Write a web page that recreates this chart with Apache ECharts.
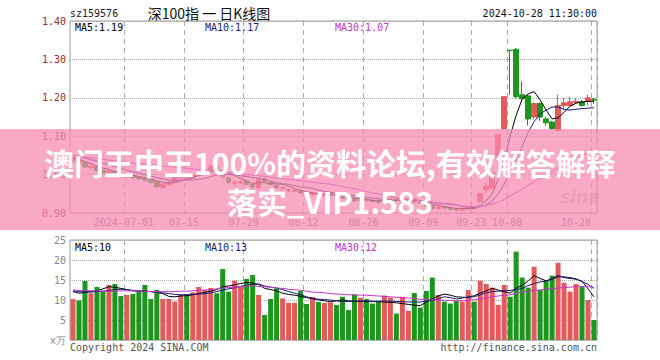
<!DOCTYPE html>
<html><head><meta charset="utf-8">
<script src="https://cdn.jsdelivr.net/npm/echarts@6/dist/echarts.min.js"></script>
<style>html,body{margin:0;padding:0;background:#fff}#c{width:660px;height:360px}</style>
</head><body><div id="c"></div><script>
const dates = [
'2024-06-18','2024-06-19','2024-06-20','2024-06-21','2024-06-24','2024-06-25','2024-06-26','2024-06-27','2024-06-28',
'2024-07-01','2024-07-02','2024-07-03','2024-07-04','2024-07-05','2024-07-08','2024-07-09','2024-07-10','2024-07-11','2024-07-12',
'2024-07-15','2024-07-16','2024-07-17','2024-07-18','2024-07-19','2024-07-22','2024-07-23','2024-07-24','2024-07-25','2024-07-26',
'2024-07-29','2024-07-30','2024-07-31','2024-08-01','2024-08-02','2024-08-05','2024-08-06','2024-08-07','2024-08-08','2024-08-09',
'2024-08-12','2024-08-13','2024-08-14','2024-08-15','2024-08-16','2024-08-19','2024-08-20','2024-08-21','2024-08-22','2024-08-23',
'2024-08-26','2024-08-27','2024-08-28','2024-08-29','2024-08-30','2024-09-02','2024-09-03','2024-09-04','2024-09-05','2024-09-06',
'2024-09-09','2024-09-10','2024-09-11','2024-09-12','2024-09-13','2024-09-18','2024-09-19','2024-09-20',
'2024-09-23','2024-09-24','2024-09-25','2024-09-26','2024-09-27','2024-09-30',
'2024-10-08','2024-10-09','2024-10-10','2024-10-11','2024-10-14','2024-10-15','2024-10-16','2024-10-17','2024-10-18',
'2024-10-21','2024-10-22','2024-10-23','2024-10-24','2024-10-25','2024-10-28'];
const opens = [1.035,1.040,1.032,1.018,1.020,1.012,1.002,1.008,1.000,0.994,
0.998,0.993,0.990,0.987,0.980,0.966,0.974,0.982,0.992,0.998,
0.993,0.998,1.004,1.010,1.020,1.010,0.992,0.977,0.978,0.982,
0.974,0.966,0.989,0.980,0.972,0.963,0.958,0.956,0.958,0.952,
0.947,0.951,0.945,0.946,0.949,0.944,0.939,0.937,0.931,0.936,
0.933,0.931,0.927,0.932,0.937,0.932,0.934,0.936,0.929,0.925,
0.920,0.911,0.916,0.913,0.911,0.907,0.911,0.916,0.930,0.960,
0.965,1.045,1.120,1.324,1.326,1.208,1.205,1.150,1.185,1.145,
1.137,1.115,1.180,1.180,1.188,1.190,1.190,1.196];
const closes = [1.042,1.030,1.020,1.022,1.010,1.004,1.008,1.000,0.996,0.998,
0.993,0.989,0.986,0.980,0.968,0.975,0.980,0.993,0.997,0.994,
0.999,1.005,1.010,1.022,1.013,0.995,0.980,0.981,0.982,0.975,
0.968,0.988,0.982,0.974,0.966,0.966,0.961,0.959,0.952,0.949,
0.952,0.947,0.948,0.950,0.944,0.939,0.936,0.932,0.936,0.933,
0.930,0.928,0.933,0.937,0.934,0.936,0.937,0.929,0.925,0.919,
0.912,0.916,0.913,0.910,0.908,0.912,0.915,0.913,0.950,0.970,
1.005,1.105,1.203,1.323,1.203,1.198,1.145,1.185,1.150,1.135,
1.120,1.180,1.187,1.190,1.191,1.180,1.200,1.194];
const lows = [1.030,1.027,1.017,1.012,1.007,1.000,0.998,0.996,0.992,0.990,
0.989,0.985,0.982,0.976,0.964,0.962,0.970,0.979,0.988,0.990,
0.990,0.995,1.001,1.007,1.009,0.988,0.976,0.972,0.974,0.971,
0.964,0.963,0.978,0.971,0.963,0.960,0.954,0.953,0.949,0.946,
0.945,0.944,0.942,0.943,0.941,0.936,0.933,0.929,0.929,0.930,
0.927,0.925,0.925,0.929,0.931,0.929,0.931,0.926,0.922,0.916,
0.908,0.908,0.910,0.907,0.905,0.905,0.908,0.909,0.925,0.952,
0.962,1.040,1.115,1.208,1.198,1.195,1.128,1.143,1.140,1.127,
1.115,1.112,1.168,1.176,1.184,1.177,1.180,1.185];
const highs = [1.046,1.044,1.034,1.026,1.023,1.015,1.011,1.010,1.003,1.002,
1.001,0.996,0.994,0.990,0.982,0.978,0.984,0.996,1.000,1.002,
1.003,1.008,1.013,1.026,1.023,1.012,0.994,0.985,0.986,0.985,
0.977,0.991,0.992,0.983,0.975,0.969,0.965,0.962,0.961,0.955,
0.955,0.953,0.951,0.953,0.951,0.946,0.941,0.939,0.939,0.938,
0.935,0.933,0.936,0.940,0.939,0.939,0.940,0.938,0.931,0.927,
0.922,0.919,0.918,0.915,0.913,0.915,0.918,0.919,0.953,0.980,
1.008,1.106,1.205,1.324,1.330,1.243,1.208,1.188,1.188,1.150,
1.140,1.208,1.200,1.203,1.200,1.195,1.208,1.200];
const ma5 = [1.045,1.040,1.034,1.028,1.022,1.017,1.013,1.008,1.004,1.001,
0.998,0.995,0.992,0.989,0.983,0.980,0.978,0.979,0.983,0.988,
0.992,0.998,1.001,1.007,1.010,1.009,1.004,0.998,0.990,0.983,
0.977,0.979,0.979,0.977,0.976,0.975,0.970,0.963,0.959,0.955,
0.953,0.950,0.950,0.949,0.948,0.946,0.943,0.940,0.937,0.935,
0.933,0.932,0.932,0.932,0.932,0.934,0.935,0.934,0.932,0.929,
0.924,0.920,0.917,0.914,0.912,0.912,0.912,0.912,0.920,0.932,
0.950,0.988,1.037,1.100,1.154,1.197,1.210,1.216,1.195,1.168,
1.145,1.148,1.162,1.178,1.186,1.189,1.191,1.191];
const ma10 = [1.050,1.047,1.043,1.039,1.035,1.030,1.026,1.021,1.016,1.011,
1.007,1.004,1.000,0.996,0.992,0.989,0.986,0.985,0.986,0.986,
0.986,0.988,0.990,0.995,0.999,1.000,1.000,0.999,0.997,0.995,
0.993,0.990,0.987,0.983,0.979,0.976,0.975,0.971,0.968,0.966,
0.964,0.960,0.956,0.954,0.952,0.949,0.947,0.945,0.943,0.941,
0.939,0.937,0.935,0.934,0.933,0.933,0.934,0.933,0.932,0.931,
0.928,0.926,0.925,0.924,0.921,0.918,0.916,0.914,0.916,0.921,
0.931,0.950,0.975,1.006,1.037,1.073,1.110,1.138,1.158,1.168,
1.176,1.176,1.170,1.168,1.170,1.172,1.173,1.174];
const ma30 = [1.050,1.048,1.046,1.044,1.042,1.040,1.038,1.036,1.034,1.032,
1.030,1.029,1.027,1.026,1.024,1.022,1.021,1.019,1.018,1.016,
1.015,1.013,1.012,1.010,1.008,1.007,1.005,1.004,1.002,1.000,
0.999,0.997,0.995,0.993,0.991,0.989,0.987,0.986,0.984,0.982,
0.980,0.978,0.977,0.975,0.972,0.969,0.966,0.963,0.960,0.956,
0.953,0.950,0.947,0.944,0.940,0.938,0.936,0.934,0.932,0.930,
0.928,0.926,0.924,0.922,0.920,0.918,0.917,0.917,0.918,0.920,
0.923,0.928,0.935,0.944,0.953,0.962,0.972,0.981,0.990,0.999,
1.008,1.017,1.026,1.034,1.042,1.050,1.057,1.064];
const volumes = [10.25,9.9,14.75,11.7,13.25,12.1,13.75,14,11,11.25,
11.5,12.1,13.75,10.25,12.5,10.25,10.25,9.6,11.4,11.4,
11.9,13.25,12.5,13,11.7,17.75,12.1,14.8,13.3,15.25,
16.25,11.25,6.25,10.25,12.9,10.4,9.3,9.3,12.25,9,
10.75,9.5,9.3,9.4,8.75,10.8,7.5,11.4,10.6,10.25,
9.1,9.75,11.1,10.6,6.6,10.8,7.3,11.75,8.1,12.25,
15.6,11.25,9.6,9.1,9.75,9.6,12.5,9.6,14.8,14,
13.1,8.75,13.75,10.8,22.1,15.6,13.1,18.3,12.5,14.75,
16.1,19.3,14.3,12.1,14,13.3,10,5];
const vma5 = [12.1,11.7,11.9,12.1,12.3,12.8,13.3,13.2,12.9,12.6,
12.3,12.2,12.2,12.1,11.9,11.6,10.9,10.8,11.0,11.1,
11.3,11.6,11.9,12.2,12.6,13.3,13.5,13.8,14.1,14.4,
14.2,13.9,12.9,12.6,12.3,11.7,11.4,11.2,10.9,10.6,
10.3,10.0,9.8,9.6,9.8,10.0,9.8,9.7,9.6,9.6,
9.6,9.6,9.5,9.4,9.3,9.1,8.9,8.7,8.6,9.5,
10.3,11.0,11.5,11.2,10.8,10.7,10.6,11.1,11.7,12.3,
12.9,12.5,12.1,11.7,13.0,13.6,14.8,16.1,15.4,14.8,
15.3,16.1,15.6,15.4,15.2,14.7,12.8,10.8];
const vma10 = [12.3,12.1,12.0,12.0,12.1,12.2,12.4,12.6,12.7,12.6,
12.4,12.3,12.2,12.1,12.0,11.8,11.6,11.4,11.3,11.3,
11.4,11.5,11.6,11.8,12.1,12.5,12.8,13.1,13.4,13.7,
13.9,14.0,13.5,13.2,13.0,12.6,12.1,11.7,11.3,10.8,
10.4,10.2,10.1,10.0,9.8,9.6,9.6,9.7,9.8,9.8,
9.7,9.7,9.75,9.7,9.6,9.6,9.5,9.5,9.5,9.7,
9.9,10.3,10.8,10.6,10.25,10.5,10.8,10.8,11.3,11.8,
12.1,12.2,12.3,12.4,12.6,12.9,13.6,14.1,14.5,14.75,
15.2,15.8,15.8,15.6,15.3,14.6,13.9,12.9];
const vma30 = [12.5,12.4,12.4,12.3,12.3,12.2,12.2,12.2,12.3,12.3,
12.3,12.2,12.2,12.1,12.1,12.1,12.1,12.1,12.2,12.2,
12.3,12.4,12.5,12.6,12.8,13.0,13.1,13.2,13.4,13.5,
13.5,13.4,13.3,13.2,13.0,12.9,12.7,12.6,12.4,12.2,
12.0,11.9,11.8,11.6,11.5,11.4,11.3,11.3,11.2,11.2,
11.1,11.0,10.9,10.8,10.7,10.6,10.5,10.4,10.2,10.1,
10.0,10.0,9.9,9.9,9.8,9.8,9.9,10.1,10.3,10.5,
10.8,11.0,11.2,11.3,11.7,12.0,12.2,12.4,12.5,12.7,
12.8,13.0,13.1,13.2,13.4,13.4,13.3,13.2];
const tickDates = ['2024-07-01','2024-07-15','2024-07-29','2024-08-12','2024-08-26','2024-09-09','2024-09-23','2024-10-08','2024-10-28'];
const tickLabels = ['2024-07-01','07-15','07-29','08-12','08-26','09-09','09-23','10-08','10-28'];
const priceMin = 0.9, priceMax = 1.4, priceStep = 0.1;
const volMin = 0, volMax = 25, volStep = 5;
const volUnit = 'x万';
const maTop = ['MA5:1.19','MA10:1.17','MA30:1.07'];
const maVol = ['MA5:10','MA10:13','MA30:12'];

const RED = '#e35a5a', GREEN = '#1c961c';
const C5 = '#000000', C10 = '#1b1b7a', C30 = '#c435c4';
const MONO = '"DejaVu Sans Mono", "Liberation Mono", monospace';
const isTick = (i) => tickDates.indexOf(dates[i]) >= 0;

const chart = echarts.init(document.getElementById('c'), null, {renderer: 'svg', width: 660, height: 360});
const gridBase = {show: true, borderColor: '#999', borderWidth: 1, backgroundColor: 'transparent', containLabel: false, outerBoundsMode: 'none'};
const vSplit = {show: true, interval: (i) => isTick(i), lineStyle: {color: '#aaa', type: [5, 4], width: 1}};
const hSplit = {show: true, lineStyle: {color: '#aaa', type: 'dotted', width: 1}};
const lineS = (name, data, color, xi, yi) => ({name, type: 'line', data, xAxisIndex: xi, yAxisIndex: yi, symbol: 'none', smooth: false, lineStyle: {color, width: 1}, itemStyle: {color}, z: 5, silent: true});

function txt(text, x, y, color, align, font) {
  return {type: 'text', x, y, z: 10, style: {text, fill: color, font: font || ('10px ' + MONO), textAlign: align || 'left', textVerticalAlign: 'middle'}};
}

chart.setOption({
  animation: false,
  backgroundColor: '#fff',
  grid: [
    Object.assign({left: 70, top: 21, width: 527, height: 192}, gridBase),
    Object.assign({left: 70, top: 240, width: 527, height: 100}, gridBase)
  ],
  xAxis: [
    {type: 'category', gridIndex: 0, data: dates, boundaryGap: true,
     axisLine: {show: false}, axisTick: {show: false},
     axisLabel: {interval: (i) => isTick(i), color: '#777', fontFamily: MONO, fontSize: 10, margin: 4,
       formatter: (v) => { const k = tickDates.indexOf(v); const t = tickLabels[k]; return k === tickDates.length - 1 ? '{e|' + t + '}' : '{n|' + t + '}'; },
       rich: {n: {padding: [0, 6, 0, 0], color: '#777', fontFamily: MONO, fontSize: 10}, e: {padding: [0, 36, 0, 0], color: '#777', fontFamily: MONO, fontSize: 10}}},
     splitLine: vSplit},
    {type: 'category', gridIndex: 1, data: dates, boundaryGap: true,
     axisLine: {show: false}, axisTick: {show: false}, axisLabel: {show: false},
     splitLine: vSplit}
  ],
  yAxis: [
    {type: 'value', gridIndex: 0, min: priceMin, max: priceMax, interval: priceStep, scale: true,
     axisLine: {show: false}, axisTick: {show: false},
     axisLabel: {color: '#9a2c2c', fontFamily: MONO, fontSize: 10, margin: 4, formatter: (v) => v.toFixed(2)},
     splitLine: hSplit},
    {type: 'value', gridIndex: 1, min: volMin, max: volMax, interval: volStep,
     axisLine: {show: false}, axisTick: {show: false},
     axisLabel: {color: '#888', fontFamily: MONO, fontSize: 10, margin: 4, formatter: (v) => v === 0 ? volUnit : String(v)},
     splitLine: hSplit}
  ],
  series: [
    {type: 'candlestick', xAxisIndex: 0, yAxisIndex: 0, barWidth: 5,
     data: dates.map((d, i) => [opens[i], closes[i], lows[i], highs[i]]),
     itemStyle: {color: RED, color0: GREEN, borderColor: RED, borderColor0: GREEN, borderWidth: 1}, z: 3, silent: true},
    lineS('MA5', ma5, C5, 0, 0),
    lineS('MA10', ma10, C10, 0, 0),
    lineS('MA30', ma30, C30, 0, 0),
    {type: 'bar', xAxisIndex: 1, yAxisIndex: 1, barWidth: 5, data: volumes, silent: true, z: 3,
     itemStyle: {color: (p) => closes[p.dataIndex] >= opens[p.dataIndex] ? RED : GREEN}},
    lineS('VMA5', vma5, C5, 1, 1),
    lineS('VMA10', vma10, C10, 1, 1),
    lineS('VMA30', vma30, C30, 1, 1)
  ],
  graphic: [
    txt('sz159576', 70, 13, '#222'),
    txt('深100指 一 日K线图', 209, 13, '#111', 'center', '14px "Noto Sans CJK SC"'),
    txt('2024-10-28 11:30:00', 597, 13, '#111', 'right'),
    txt(maTop[0], 75, 27, C5),
    txt(maTop[1], 205, 27, C10),
    txt(maTop[2], 335, 27, C30),
    txt(maVol[0], 75, 247, C5),
    txt(maVol[1], 205, 247, C10),
    txt(maVol[2], 335, 247, C30),
    txt('Copyright 2024 SINA.COM', 70, 347, '#555'),
    txt('http://finance.sina.com.cn', 597, 347, '#555', 'right'),
    txt('sina', 580, 197, 'rgba(140,140,140,0.45)', 'center', 'italic bold 17px "DejaVu Sans"'),
    {type: 'rect', z: 100, shape: {x: 0, y: 129, width: 660, height: 101}, style: {fill: 'rgba(247,138,178,0.74)'}},
    {type: 'text', z: 101, x: 330, y: 162, style: {text: '澳门王中王100%的资料论坛,有效解答解释', fill: '#fff', font: 'bold 30px "Noto Sans CJK SC"', textAlign: 'center', textVerticalAlign: 'middle'}},
    {type: 'text', z: 101, x: 330, y: 201, style: {text: '落实_VIP1.583', fill: '#fff', font: 'bold 30px "Noto Sans CJK SC"', textAlign: 'center', textVerticalAlign: 'middle'}}
  ]
});
</script></body></html>
